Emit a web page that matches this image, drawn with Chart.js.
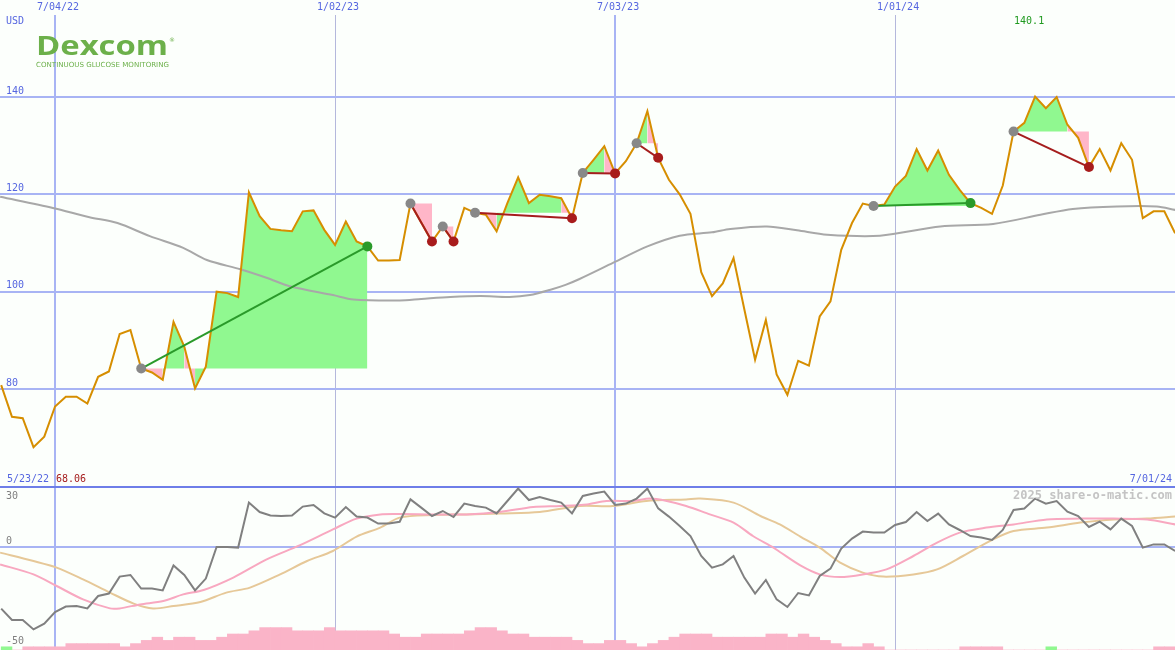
<!DOCTYPE html>
<html>
<head>
<meta charset="utf-8">
<script src="https://cdn.jsdelivr.net/npm/chart.js@4.4.1/dist/chart.umd.min.js"></script>
<style>
  body { margin: 0; background: #fcfffc; overflow: hidden; }
  #wrap { position: relative; width: 1175px; height: 650px; }
  canvas { position: absolute; left: 0; }
  #top { top: 0; }
  #bot { top: 484px; }
</style>
</head>
<body>
<div id="wrap">
  <canvas id="top" width="1175" height="487"></canvas>
  <canvas id="bot" width="1175" height="166"></canvas>
</div>
<script>
// weekly closes, index 0 = 5/30/22
const price = [
  80.8, 74.3, 74.0, 68.06, 70.2, 76.4, 78.4, 78.4, 77.0, 82.5,
  83.6, 91.3, 92.1, 84.2, 83.4, 81.9, 93.8, 88.7, 80.1, 84.6,
  100.0, 99.7, 98.9, 120.4, 115.5, 112.9, 112.6, 112.4, 116.5, 116.7,
  112.7, 109.6, 114.4, 110.3, 109.3, 106.4, 106.4, 106.5, 118.1, 114.2,
  110.3, 113.4, 110.3, 117.2, 116.2, 115.8, 112.4, 118.2, 123.5, 118.2,
  119.9, 119.6, 119.2, 115.1, 124.4, 127.1, 129.9, 124.3, 126.8, 130.5,
  137.1, 127.5, 123.0, 120.0, 116.0, 104.0, 99.1, 101.7, 106.9, 96.4,
  86.0, 94.2, 83.0, 78.8, 85.8, 84.8, 94.9, 98.0, 108.6, 114.1,
  118.1, 117.6, 117.9, 121.6, 123.8, 129.3, 124.9, 129.0, 124.0, 120.9,
  118.2, 117.2, 116.0, 121.8, 132.9, 134.7, 140.1, 137.7, 140.0, 134.3,
  131.6, 125.6, 129.3, 124.9, 130.5, 127.1, 115.1, 116.5, 116.5, 112.0
];
// slow moving average (grey), read at sample weeks
const smaIdx = [-0.1, 4.8, 8.2, 10.8, 13.8, 16.9, 19.1, 22.2, 24.7, 26.8, 30.8, 32.7, 37, 39, 41.7, 44.5, 47.2, 49.1, 51, 52.4,
  53.7, 56.8, 60, 63, 66, 67.7, 71.1, 73.9, 76.7, 81.6, 87.2, 92.1, 96.5, 99.5, 103.6, 107.3, 109];
const smaVal = [119.5, 117.2, 115.3, 114.1, 111.4, 109.0, 106.5, 104.6, 102.8, 101.1, 99.3, 98.4, 98.2, 98.5, 98.9, 99.1, 98.9, 99.3, 100.4, 101.4,
  102.6, 105.9, 109.3, 111.5, 112.2, 112.9, 113.4, 112.6, 111.7, 111.5, 113.4, 113.9, 115.8, 117.0, 117.5, 117.5, 116.8];

// trend signals: start week / end week
const sigStart = [13, 38, 41, 44, 54, 59, 81, 94];
const sigEnd   = [34, 40, 42, 53, 57, 61, 90, 101];

const dateIdx = [5, 31, 57, 83];
const dateLabels = ['7/04/22', '1/02/23', '7/03/23', '1/01/24'];
const yTicks = [80, 100, 120, 140];
const firstDate = '5/23/22', lastDate = '7/01/24';

// lower panel
const osc = [
  -30.8, -36.5, -36.5, -41.2, -38.3, -32.5, -29.8, -29.5, -30.7, -24.5,
  -23.3, -14.8, -14.0, -20.8, -20.8, -21.7, -9.2, -14.0, -21.7, -15.8,
  0, 0, -0.3, 22.2, 17.5, 15.8, 15.5, 15.8, 20.2, 21.0,
  16.8, 14.7, 20.0, 15.2, 14.7, 11.7, 11.7, 12.6, 23.8, 19.7,
  15.5, 18.0, 15.0, 21.7, 20.5, 19.7, 16.8, 23.0, 29.2, 23.5,
  25.0, 23.5, 22.2, 16.8, 25.5, 26.7, 27.7, 21.0, 21.7, 24.2,
  29.2, 19.3, 15.2, 10.5, 5.5, -4.5, -10.3, -8.7, -4.5, -15.3,
  -23.3, -16.5, -26.2, -30.0, -23.0, -24.2, -14.5, -10.8, -0.8, 4.2,
  7.7, 7.2, 7.2, 11.0, 12.5, 17.5, 13.0, 16.7, 11.3, 8.5,
  5.5, 4.7, 3.5, 8.5, 18.5, 19.2, 24.2, 21.7, 23.0, 17.7,
  15.5, 10.0, 12.7, 8.8, 14.2, 10.5, -0.3, 1.3, 1.3, -2.0
];
const pinkIdx = [-0.1, 3.0, 5.15, 7.6, 10.1, 11.0, 12.9, 15.05, 16.9, 18.8, 21.55, 24.65, 27.7, 30.8, 33.0, 35.2, 37.0, 40.1, 43.2, 46.3,
  49.4, 51.9, 54.4, 56.2, 58.7, 60.2, 61.8, 63.6, 65.8, 68.0, 69.8, 71.7, 72.3, 74.2, 76.0, 77.9, 80.0, 82.2, 84.7, 86.9,
  89.0, 91.5, 94.0, 97.1, 100.2, 103.3, 106.4, 109];
const pinkVal = [-8.7, -13.7, -19.5, -26.2, -30.7, -30.7, -28.7, -27, -23.7, -21.5, -15.3, -6.2, 0.8, 8.8, 14.2, 16.3, 16.5, 16.3, 16.3, 17.5,
  20, 20.5, 21.3, 23, 23, 24.2, 23, 20.5, 16.3, 12.2, 5.5, -0.3, -2.5, -9.2, -13.7, -15, -13.7, -11.2, -4.5, 2.2,
  7.2, 9.7, 11.3, 13.8, 14.2, 14.2, 13.8, 11.3];
const tanIdx = [-0.1, 3.0, 5.15, 7.6, 10.1, 12.3, 14.1, 16.0, 18.5, 20.9, 23.1, 25.9, 28.4, 30.8, 33.0, 35.2, 37.0, 40.1, 43.2, 46.3,
  50.0, 53.7, 56.8, 59.9, 63.6, 64.9, 68.0, 70.5, 72.3, 74.2, 76.0, 77.9, 80.0, 81.9, 84.7, 86.9, 89.3, 92.1, 94.0, 97.1,
  100.2, 103.3, 106.4, 109];
const tanVal = [-2.8, -7, -10.3, -16.2, -22.8, -28.3, -30.7, -29.5, -27.5, -22.8, -20.3, -13.7, -7, -2, 5.2, 9.7, 14.7, 16, 16.3, 16.8,
  17.5, 20.5, 20.5, 23, 23.8, 24.2, 22.2, 15.5, 11.3, 5.2, -0.3, -7.8, -12.8, -14.8, -13.7, -11.2, -4.5, 3.8, 8, 9.7,
  12.2, 13.8, 14.2, 15.2];
// volume bars (relative level), one per week
const volume = [
  1, 0, 1, 1, 1, 1, 2, 2, 2, 2,
  2, 1, 2, 3, 4, 3, 4, 4, 3, 3,
  4, 5, 5, 6, 7, 7, 7, 6, 6, 6,
  7, 6, 6, 6, 6, 6, 5, 4, 4, 5,
  5, 5, 5, 6, 7, 7, 6, 5, 5, 4,
  4, 4, 4, 3, 2, 2, 3, 3, 2, 1,
  2, 3, 4, 5, 5, 5, 4, 4, 4, 4,
  4, 5, 5, 4, 5, 4, 3, 2, 1, 1,
  2, 1, 0, 0, 0, 0, 0, 0, 0, 1,
  1, 1, 1, 0, 0, 0, 0, 1, 0, 0,
  0, 0, 0, 0, 0, 0, 0, 1, 1
];
const volUp = [0, 97];
const oscTicks = [0, -50];
const oscTopTick = [30];

const GREEN = '#90f890', PINK = '#ffb6c8';
const GRID = '#a8b4f4', TXT = '#5566e0';
const MONO = 'DejaVu Sans Mono';
const xMin = -0.111, xMax = 108.99;

const pts = (xs, ys) => xs.map((x, i) => ({x: x, y: ys[i]}));
// y axes: no width, no edge padding for the labels
const flatY = s => { s.width = 0; s.paddingTop = 0; s.paddingBottom = 0; };

let datasets = [];
// fills + trend lines
sigStart.forEach((s, n) => {
  let e = sigEnd[n], base = price[s];
  let up = price[e] > base;
  let seg = [];
  for (let i = s; i <= e; i++) seg.push({x: i, y: price[i]});
  datasets.push({
    data: seg, order: 5, borderWidth: 0, pointRadius: 0,
    backgroundColor: GREEN,
    fill: {value: base},
    segment: { backgroundColor: c => c.p1.parsed.y > base ? GREEN : PINK }
  });
  datasets.push({
    data: [{x: s, y: base}, {x: e, y: price[e]}], order: 0,
    borderColor: up ? '#2a9a2a' : '#a51d1d', borderWidth: 2,
    pointRadius: 5, pointBorderWidth: 0,
    pointBackgroundColor: ['#888888', up ? '#2a9a2a' : '#a81c1c']
  });
});
datasets.push({ data: pts(smaIdx, smaVal), order: 3, borderColor: '#a8a8a8', borderWidth: 2, pointRadius: 0, tension: 0.3 });
datasets.push({ data: price.map((v, i) => ({x: i, y: v})), order: 1, borderColor: '#d68e00', borderWidth: 2, pointRadius: 0 });

const topTexts = {
  id: 'topTexts',
  afterDraw(chart) {
    const ctx = chart.ctx;
    ctx.save();
    ctx.textBaseline = 'middle';
    ctx.font = '10px "' + MONO + '"';
    ctx.fillStyle = TXT;
    ctx.fillText('USD', 6, 21);
    ctx.fillText(firstDate, 7, 479);
    ctx.textAlign = 'right';
    ctx.fillText(lastDate, 1172, 479);
    ctx.textAlign = 'left';
    ctx.fillStyle = '#a51d1d';
    ctx.fillText(Math.min(...price).toFixed(2), 56, 479);
    let hi = Math.max(...price);
    ctx.fillStyle = '#1f9a1f';
    ctx.textAlign = 'center';
    ctx.fillText(hi.toFixed(1), chart.scales.x.getPixelForValue(price.indexOf(hi)) - 6, 21);
    // logo
    ctx.fillStyle = '#6cb04a';
    ctx.textAlign = 'left';
    ctx.textBaseline = 'alphabetic';
    ctx.font = 'bold 26px "Open Sans"';
    let w = ctx.measureText('Dexcom').width;
    ctx.save(); ctx.translate(36, 55); ctx.scale(132 / w, 1); ctx.fillText('Dexcom', 0, 0); ctx.restore();
    ctx.font = '6px "DejaVu Sans"';
    ctx.fillText('®', 169, 42);
    ctx.font = '7px "DejaVu Sans"';
    w = ctx.measureText('CONTINUOUS GLUCOSE MONITORING').width;
    ctx.save(); ctx.translate(36, 67); ctx.scale(133 / w, 1); ctx.fillText('CONTINUOUS GLUCOSE MONITORING', 0, 0); ctx.restore();
    ctx.restore();
  }
};

const xGrid = {
  drawTicks: false,
  color: c => (c.index % 2 === 0 ? GRID : '#b4b8dc'),
  lineWidth: c => (c.index % 2 === 0 ? 2 : 1)
};

new Chart(document.getElementById('top'), {
  type: 'line',
  data: { datasets: datasets },
  plugins: [topTexts],
  options: {
    responsive: false, animation: false, devicePixelRatio: 1,
    layout: { padding: 0, autoPadding: false },
    plugins: { legend: {display: false}, tooltip: {enabled: false} },
    scales: {
      x: {
        type: 'linear', position: 'top', min: xMin, max: xMax, offset: false,
        afterBuildTicks: s => { s.ticks = dateIdx.map(v => ({value: v})); },
        afterFit: s => { s.height = 15; s.paddingLeft = 0; s.paddingRight = 0; },
        border: {display: false},
        grid: xGrid,
        ticks: { color: TXT, font: {family: MONO, size: 10}, padding: 2, labelOffset: 3,
                 maxRotation: 0, autoSkip: false, callback: (v, i) => dateLabels[i] }
      },
      y: {
        type: 'linear', position: 'left', min: 59.86, max: 156.85,
        afterBuildTicks: s => { s.ticks = yTicks.map(v => ({value: v})); },
        afterFit: flatY,
        border: {display: false},
        grid: { color: GRID, lineWidth: 2, drawTicks: false },
        ticks: { mirror: true, padding: 6, labelOffset: -6, color: TXT, font: {family: MONO, size: 10} }
      }
    }
  }
});

const botTexts = {
  id: 'botTexts',
  afterDraw(chart) {
    const ctx = chart.ctx;
    ctx.save();
    ctx.font = 'bold 12px "' + MONO + '"';
    ctx.fillStyle = '#c4c4c4';
    ctx.textAlign = 'right';
    ctx.textBaseline = 'middle';
    ctx.fillText('2025 share-o-matic.com', 1172, 12);
    ctx.restore();
  }
};

new Chart(document.getElementById('bot'), {
  type: 'line',
  data: {
    datasets: [
      { type: 'bar', yAxisID: 'yVol', order: 9,
        data: volume.map((v, k) => ({x: k + 0.5, y: v})),
        backgroundColor: volume.map((v, k) => volUp.includes(k) ? GREEN : '#fab4c8'),
        borderWidth: 0, barPercentage: 1, categoryPercentage: 1 },
      { data: pts(tanIdx, tanVal), order: 3, borderColor: '#e6c898', borderWidth: 2, pointRadius: 0, tension: 0.3 },
      { data: pts(pinkIdx, pinkVal), order: 2, borderColor: '#f8a8c0', borderWidth: 2, pointRadius: 0, tension: 0.3 },
      { data: osc.map((v, i) => ({x: i, y: v})), order: 1, borderColor: '#808080', borderWidth: 2, pointRadius: 0 }
    ]
  },
  plugins: [botTexts],
  options: {
    responsive: false, animation: false, devicePixelRatio: 1,
    layout: { padding: {top: 3, left: 0, right: 0, bottom: 0}, autoPadding: false },
    plugins: { legend: {display: false}, tooltip: {enabled: false} },
    scales: {
      x: {
        type: 'linear', min: xMin, max: xMax, offset: false,
        afterBuildTicks: s => { s.ticks = dateIdx.map(v => ({value: v})); },
        afterFit: s => { s.height = 0; s.paddingLeft = 0; s.paddingRight = 0; },
        border: {display: false},
        grid: Object.assign({offset: false}, xGrid),
        ticks: { display: false }
      },
      y: {
        position: 'left', min: -51.5, max: 30,
        afterBuildTicks: s => { s.ticks = oscTicks.map(v => ({value: v})); },
        afterFit: flatY,
        border: {display: false},
        grid: { color: c => (c.tick.value === 0 ? GRID : 'rgba(0,0,0,0)'), lineWidth: 2, drawTicks: false },
        ticks: { mirror: true, padding: 6, labelOffset: -6, color: '#808080', font: {family: MONO, size: 10} }
      },
      y30: {
        position: 'left', min: -51.5, max: 30,
        afterBuildTicks: s => { s.ticks = oscTopTick.map(v => ({value: v})); },
        afterFit: flatY,
        border: {display: false},
        grid: { color: '#6e7ee8', lineWidth: 2, drawTicks: false },
        ticks: { mirror: true, padding: 6, labelOffset: 9, color: '#808080', font: {family: MONO, size: 10} }
      },
      yVol: { display: false, min: 0, max: 163 / 3.2 }
    }
  }
});
</script>
</body>
</html>
